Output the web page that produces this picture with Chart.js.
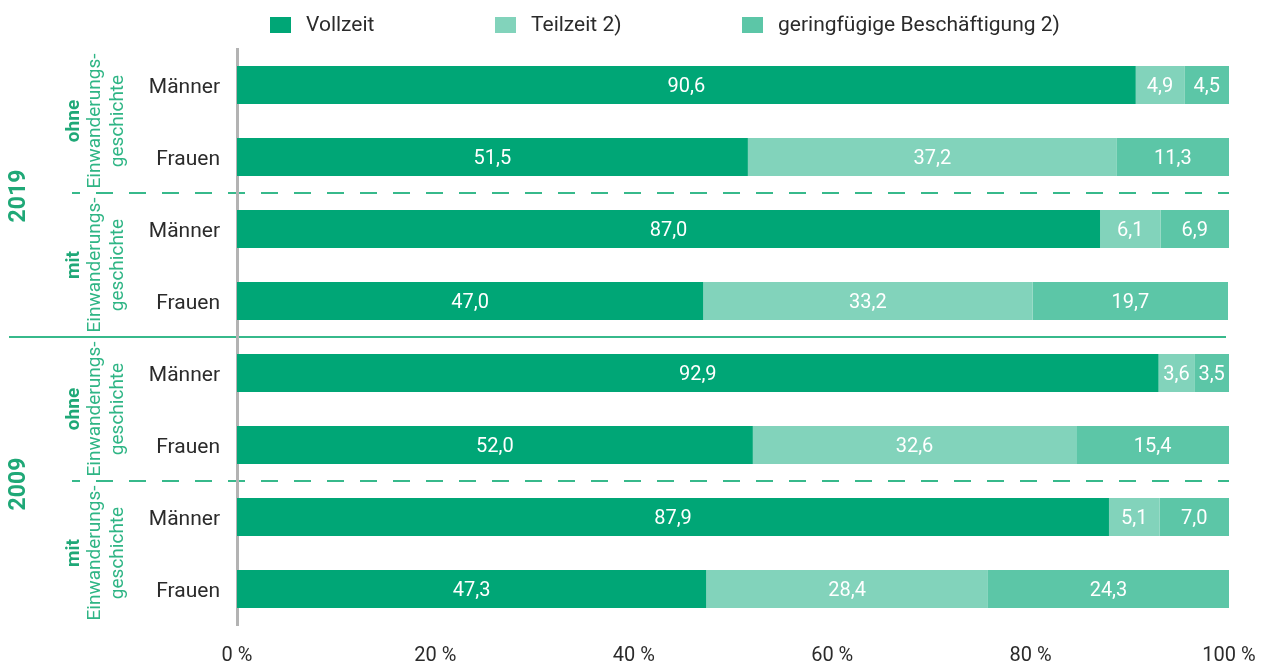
<!DOCTYPE html>
<html lang="de">
<head>
<meta charset="utf-8">
<title>Erwerbstätige nach Umfang der Tätigkeit</title>
<script src="https://cdn.jsdelivr.net/npm/chart.js@4.4.1/dist/chart.umd.min.js"></script>
<style>
  html, body { margin: 0; padding: 0; background: #fff; }
  #box { width: 1266px; height: 663px; position: relative; }
</style>
</head>
<body>
<div id="box"><canvas id="chart" width="1266" height="663"></canvas></div>
<script>
// Werte in Prozent, je Zeile: 2019 ohne/mit, 2009 ohne/mit, jeweils Männer/Frauen
const zeilen = ['Männer', 'Frauen', 'Männer', 'Frauen', 'Männer', 'Frauen', 'Männer', 'Frauen'];
const vollzeit = [90.6, 51.5, 87.0, 47.0, 92.9, 52.0, 87.9, 47.3];
const teilzeit = [4.9, 37.2, 6.1, 33.2, 3.6, 32.6, 5.1, 28.4];
const geringfuegig = [4.5, 11.3, 6.9, 19.7, 3.5, 15.4, 7.0, 24.3];
const reihen = ['Vollzeit', 'Teilzeit 2)', 'geringfügige Beschäftigung 2)'];
const jahre = ['2019', '2009'];
const gruppen = ['ohne', 'mit', 'ohne', 'mit'];

const gruen = '#00a676';
const hellgruen = '#82d3bb';
const mittelgruen = '#5cc6a7';
const linie = '#37b98b';
const schrift = 'Roboto, "Noto Sans", sans-serif';

function komma(v) {
  return v.toFixed(1).replace('.', ',');
}

// Trennlinien, Gruppen- und Jahresbeschriftung links
const deko = {
  id: 'deko',
  beforeDraw(chart) {
    const ctx = chart.ctx;
    const y = chart.scales.y;
    const mitte = (a, b) => (y.getPixelForValue(a) + y.getPixelForValue(b)) / 2;
    ctx.save();
    ctx.strokeStyle = linie;
    ctx.lineWidth = 2;
    // gestrichelt zwischen ohne/mit
    ctx.setLineDash([17, 16]);
    ctx.lineDashOffset = 9;
    [1, 5].forEach(i => {
      const py = Math.round(mitte(i, i + 1));
      ctx.beginPath();
      ctx.moveTo(72, py);
      ctx.lineTo(chart.chartArea.right, py);
      ctx.stroke();
    });
    // durchgezogen zwischen den Jahren
    ctx.setLineDash([]);
    const py = Math.round(mitte(3, 4));
    ctx.beginPath();
    ctx.moveTo(9, py);
    ctx.lineTo(chart.chartArea.right - 3, py);
    ctx.stroke();

    ctx.textAlign = 'center';
    ctx.textBaseline = 'middle';
    gruppen.forEach((g, i) => {
      const cy = mitte(2 * i, 2 * i + 1);
      ctx.save();
      ctx.translate(0, cy);
      ctx.rotate(-Math.PI / 2);
      ctx.fillStyle = '#1fa877';
      ctx.font = 'bold 19px ' + schrift;
      ctx.fillText(g, 0, 74);
      ctx.fillStyle = '#2fb585';
      ctx.font = '19px ' + schrift;
      ctx.fillText('Einwanderungs-', 0, 95);
      ctx.fillText('geschichte', 0, 118);
      ctx.restore();
    });
    jahre.forEach((j, i) => {
      const cy = mitte(4 * i, 4 * i + 3) + 3;
      ctx.save();
      ctx.translate(19, cy);
      ctx.rotate(-Math.PI / 2);
      ctx.fillStyle = '#1fa877';
      ctx.font = 'bold 23px ' + schrift;
      ctx.fillText(j, 0, 0);
      ctx.restore();
    });
    ctx.restore();
  },
  afterDatasetsDraw(chart) {
    const ctx = chart.ctx;
    ctx.save();
    ctx.fillStyle = '#fff';
    ctx.font = '20px ' + schrift;
    ctx.textAlign = 'center';
    ctx.textBaseline = 'middle';
    chart.data.datasets.forEach((ds, d) => {
      chart.getDatasetMeta(d).data.forEach((bar, i) => {
        const cx = (bar.x + bar.base) / 2;
        ctx.fillText(komma(ds.data[i]), cx, bar.y + 2);
      });
    });
    ctx.restore();
  },
  afterDraw(chart) {
    // Legende oben
    const ctx = chart.ctx;
    const xs = [270, 495, 742];
    ctx.save();
    ctx.font = '21px ' + schrift;
    ctx.textBaseline = 'middle';
    chart.data.datasets.forEach((ds, i) => {
      ctx.fillStyle = ds.backgroundColor;
      ctx.fillRect(xs[i], 17, 21, 16);
      ctx.fillStyle = '#2b2b2b';
      ctx.fillText(ds.label, xs[i] + 36, 26);
    });
    ctx.restore();
  }
};

new Chart(document.getElementById('chart'), {
  type: 'bar',
  data: {
    labels: zeilen,
    datasets: [
      { label: reihen[0], data: vollzeit, backgroundColor: gruen },
      { label: reihen[1], data: teilzeit, backgroundColor: hellgruen },
      { label: reihen[2], data: geringfuegig, backgroundColor: mittelgruen }
    ]
  },
  options: {
    indexAxis: 'y',
    responsive: false,
    animation: false,
    barPercentage: 0.53,
    categoryPercentage: 1,
    layout: { padding: { top: 49, right: 37, left: 0, bottom: 0 } },
    plugins: {
      legend: { display: false },
      tooltip: { enabled: false }
    },
    scales: {
      x: {
        stacked: true,
        min: 0,
        max: 100,
        grid: { display: false, drawTicks: false },
        border: { display: false },
        ticks: {
          stepSize: 20,
          padding: 19,
          color: '#2b2b2b',
          font: { family: schrift, size: 20 },
          callback: v => v + ' %'
        },
        afterFit(scale) {
          scale.height = 38;
          scale.paddingLeft = 0;
          scale.paddingRight = 0;
        }
      },
      y: {
        stacked: true,
        grid: { display: false, drawTicks: false },
        border: { display: true, color: '#b3b3b3', width: 3 },
        ticks: {
          padding: 17,
          labelOffset: 3,
          color: '#2b2b2b',
          font: { family: schrift, size: 21 }
        },
        afterFit(scale) { scale.width = 237; }
      }
    }
  },
  plugins: [deko]
});
</script>
</body>
</html>
